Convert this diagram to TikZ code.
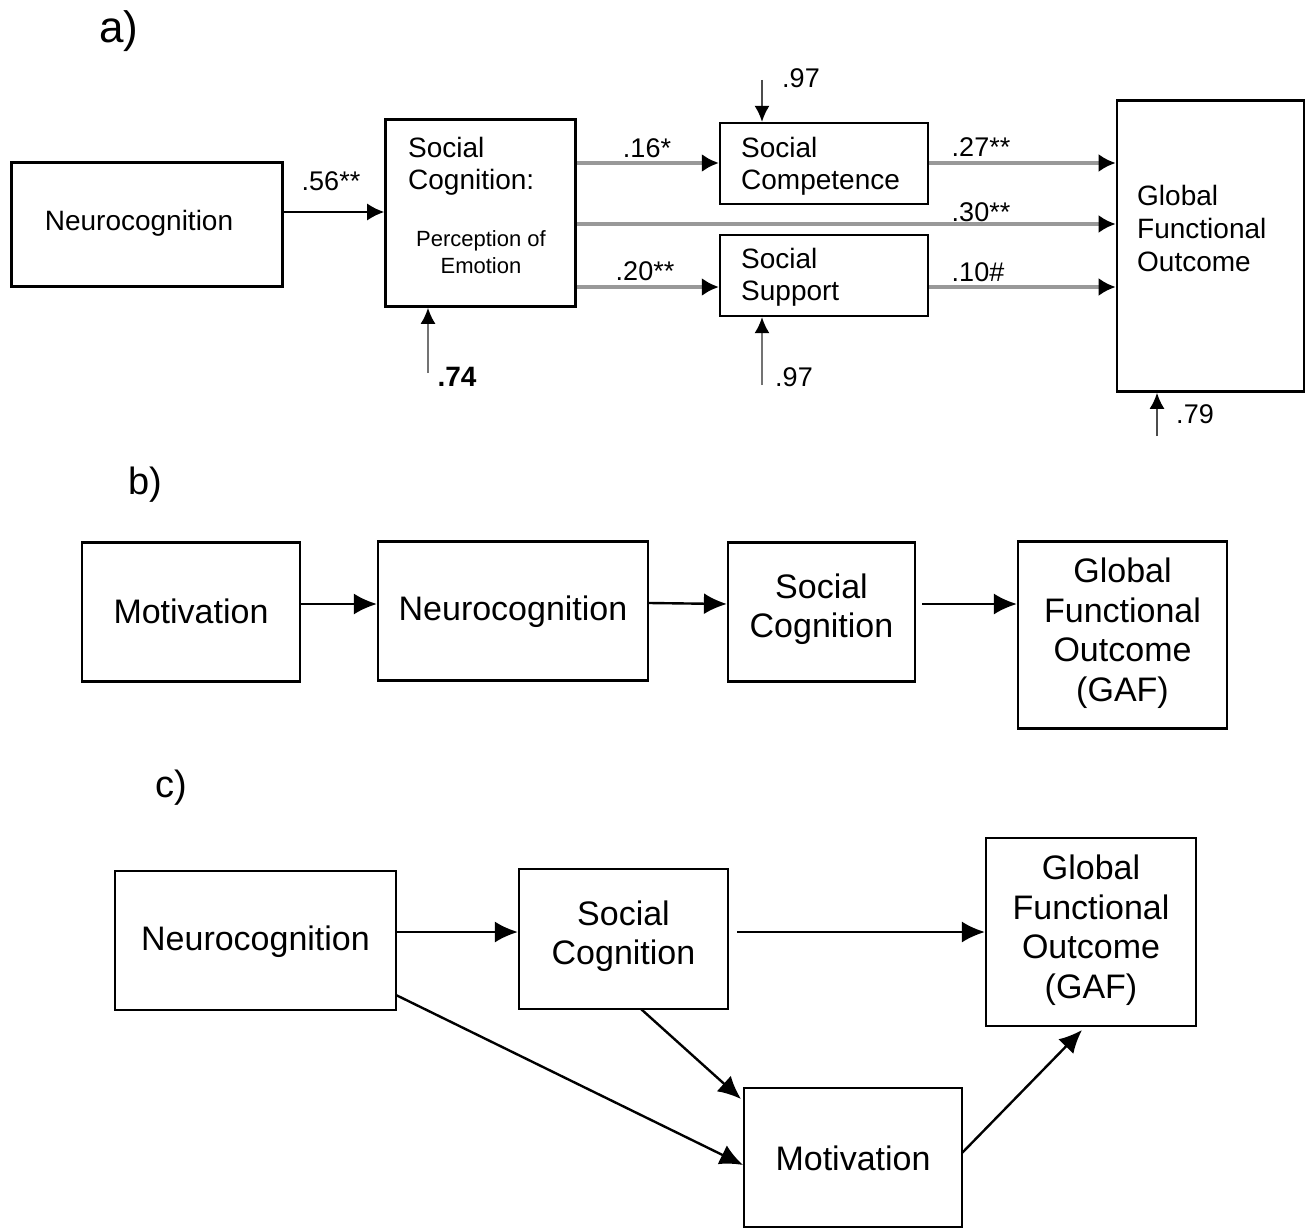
\documentclass[tikz,border=0pt]{standalone}
\usepackage{fontspec}
\setmainfont{Liberation Sans}
\usetikzlibrary{arrows.meta}
\newcommand{\fs}[2]{\fontsize{#1}{#2}\selectfont}
\tikzset{
  x=1pt, y=-1pt,
  box/.style={draw, line width=2.2pt, inner sep=0pt},
  boxa/.style={draw, line width=2.6pt, inner sep=0pt},
  txt/.style={inner sep=0pt},
  atxt/.style={inner sep=0pt, font=\fs{28}{32}},
  btxt/.style={inner sep=0pt, font=\fs{34}{39.5}, align=center},
  lbl/.style={inner sep=0pt, font=\fs{27}{30}},
  arrb/.style={line width=2.4pt, -{Latex[length=23pt, width=21pt]}},
  arra/.style={line width=1.8pt, -{Latex[length=17pt, width=17pt]}},
  arrg/.style={line width=4.5pt, draw=black!40, -{Latex[length=17pt, width=18pt, black]}},
  arrr/.style={line width=2pt, draw=black!55, -{Latex[length=16pt, width=15pt, black]}},
}
\begin{document}
\begin{tikzpicture}
\useasboundingbox (0,0) rectangle (1312,1228);
% ---------------- a) ----------------
\node[txt, font=\fs{44}{48}] (la) at (119,31) {a)};
\node[boxa, line width=3pt, minimum width=271, minimum height=123] (an) at (146.5,224.5) {};
\node[atxt] (antxt) at (139,223) {Neurocognition};
\node[boxa, minimum width=190, minimum height=187] (asc) at (480.5,213) {};
\node[atxt, anchor=west, align=left] (asctxt) at (408,166) {Social\\Cognition:};
\node[txt, font=\fs{22}{27}, align=center] (aperc) at (481,252) {Perception of\\Emotion};
\node[box, minimum width=208, minimum height=81] (acomp) at (824,163.5) {};
\node[atxt, anchor=west, align=left] (acomptxt) at (741,166) {Social\\Competence};
\node[box, minimum width=208, minimum height=81] (asup) at (824,275.5) {};
\node[atxt, anchor=west, align=left] (asuptxt) at (741,277) {Social\\Support};
\node[boxa, minimum width=187, minimum height=291] (agfo) at (1210.5,246) {};
\node[atxt, anchor=west, align=left, font=\fs{28}{33}] (agfotxt) at (1137,228) {Global\\Functional\\Outcome};
% arrows a
\draw[arra] (an.east |- 0,212) -- (asc.west |- 0,212);
\node[lbl] (l56) at (331,181) {.56**};
\draw[arrg] (asc.east |- 0,163) -- (acomp.west |- 0,163);
\node[lbl] (l16) at (647,148) {.16*};
\draw[arrg] (asc.east |- 0,224) -- (agfo.west |- 0,224);
\node[lbl] (l30) at (981,212) {.30**};
\draw[arrg] (asc.east |- 0,287) -- (asup.west |- 0,287);
\node[lbl] (l20) at (645,271) {.20**};
\draw[arrg] (acomp.east |- 0,163) -- (agfo.west |- 0,163);
\node[lbl] (l27) at (981,147) {.27**};
\draw[arrg] (asup.east |- 0,287) -- (agfo.west |- 0,287);
\node[lbl] (l10) at (978,272) {.10\#};
% residuals
\coordinate (rtop) at (762,80);
\draw[arrr, draw=black!70] (rtop) -- (rtop |- acomp.north);
\node[lbl] (r97a) at (801,78) {.97};
\coordinate (rsup) at (762,385);
\draw[arrr] (rsup) -- (rsup |- asup.south);
\node[lbl] (r97b) at (794,377) {.97};
\coordinate (rsc) at (428,373);
\draw[arrr] (rsc) -- (rsc |- asc.south);
\node[lbl, font=\fs{28}{30}\bfseries] (r74) at (457,377) {.74};
\coordinate (rgfo) at (1157,436);
\draw[arrr, draw=black!70] (rgfo) -- (rgfo |- agfo.south);
\node[lbl] (r79) at (1195,414) {.79};
% ---------------- b) ----------------
\node[txt, font=\fs{38}{42}] (lb) at (145,485) {b)};
\node[box, minimum width=218, minimum height=139] (bmot) at (191,612) {};
\node[btxt] (bmottxt) at (191,611) {Motivation};
\node[box, minimum width=270, minimum height=139] (bneu) at (513,611) {};
\node[btxt] (bneutxt) at (513,612) {Neurocognition};
\node[box, minimum width=187, minimum height=139] (bsc) at (821.5,612) {};
\node[btxt] (bsctxt) at (821.5,609) {Social\\Cognition};
\node[box, minimum width=209, minimum height=187] (bgfo) at (1122.5,635) {};
\node[btxt] (bgfotxt) at (1122.5,633) {Global\\Functional\\Outcome\\(GAF)};
\draw[arrb] (bmot.east |- 0,604) -- (bneu.west |- 0,604);
\draw[arrb] (bneu.east |- 0,603) -- (bsc.west |- 0,604);
\coordinate (bsco) at (922,604);
\draw[arrb] (bsco) -- (bgfo.west |- bsco);
% ---------------- c) ----------------
\node[txt, font=\fs{38}{42}] (lc) at (171,788) {c)};
\node[box, minimum width=281, minimum height=139] (cneu) at (255.5,940.5) {};
\node[btxt] (cneutxt) at (255.5,942) {Neurocognition};
\node[box, minimum width=209, minimum height=140] (csc) at (623.5,939) {};
\node[btxt] (csctxt) at (623.5,936) {Social\\Cognition};
\node[box, minimum width=210, minimum height=188] (cgfo) at (1091,932) {};
\node[btxt] (cgfotxt) at (1091,930) {Global\\Functional\\Outcome\\(GAF)};
\node[box, minimum width=218, minimum height=139] (cmot) at (853,1157.5) {};
\node[btxt] (cmottxt) at (853,1158) {Motivation};
\draw[arrb] (cneu.east |- 0,932) -- (csc.west |- 0,932);
\coordinate (csco) at (737,932);
\draw[arrb] (csco) -- (cgfo.west |- csco);
\coordinate (cscb) at (641,1009);
\coordinate (cmotin1) at (741,1099);
\draw[arrb] (cscb) -- (cmotin1);
\coordinate (cneub) at (396,995);
\coordinate (cmotin2) at (743,1165);
\draw[arrb] (cneub) -- (cmotin2);
\coordinate (cmoto) at (962,1153);
\coordinate (cgfoin) at (1082,1030);
\draw[arrb] (cmoto) -- (cgfoin);
\end{tikzpicture}
\end{document}
